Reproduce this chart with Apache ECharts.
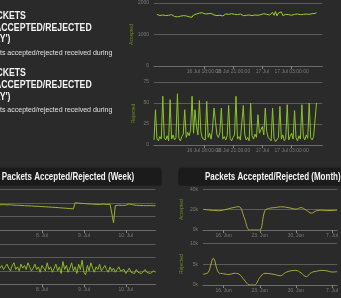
<!DOCTYPE html>
<html><head><meta charset="utf-8">
<script src="https://cdn.jsdelivr.net/npm/echarts@6/dist/echarts.min.js"></script>
<style>html,body{margin:0;padding:0;background:#2a2a2a;}#c{width:341px;height:298px;}</style>
</head><body><div id="c"></div>
<script>
// ---- data ----
const hourTicks = ['16 Jul 15:00:00','16 Jul 18:00:00','16 Jul 21:00:00','17 Jul','17 Jul 03:00:00','17 Jul 06:00:00'];
const hourAccepted = [
null,null,1640,1690,1600,1580,1620,1570,1600,1560,
1610,1590,1630,1580,1570,1600,1560,1540,1580,1550,
1600,1570,1590,1540,1560,1580,1550,1620,1600,1650,
1620,1680,1640,1690,1710,1650,1700,1660,1630,1670,
1640,1620,1660,1600,1650,1610,1640,1590,1630,1650,
1610,1640,1620,1660,1600,1640,1580,1630,1610,1650,
1620,1600,1640,1610,1660,1620,1650,1600,1640,1620,
1670,1610,1650,1630,1600,1660,1620,1640,1690,1620,
1580,1700,1610,1730,1590,1680,1620,1720,1600,1660,
1640,1680,1630,1650,1610,1660,1640,1620,1650,1670,
1630,1660,1640,1690,1650,1670,1640,1680,1660,1700,
1670,1690];
const hourRejected = [
6,42,8,5,10,7,58,9,6,11,
5,54,7,12,6,9,61,8,5,10,
13,42,9,15,11,18,58,14,42,22,
12,53,16,8,10,6,52,9,14,7,
20,44,28,12,9,15,44,7,10,6,
11,47,8,5,9,12,58,7,10,6,
8,47,12,6,9,5,50,11,7,13,
9,36,14,18,22,12,44,16,9,7,
5,44,8,4,6,9,46,7,12,5,
8,48,6,10,14,7,41,9,5,11,
7,48,10,6,12,8,50,9,6,10,
8,50];
const weekTicks = ['8. Jul','9. Jul','10. Jul'];
const weekAccepted = [
930,925,935,920,928,922,930,
921,915,918,910,905,908,900,896,899,890,886,888,880,876,872,874,866,860,862,855,850,846,842,838,835,830,826,820,815,810,805,800,795,790,785,780,
1000,
1005,990,995,980,985,970,975,960,950,955,960,945,950,940,945,955,950,940,945,950,
930,270,900,
920,915,910,905,900,915,940,960,950,930,920,910,915,905,910,900,905,895,910,900,905,895,900];
const weekRejected = [
12,14,11,13,15,12,10,14,16,11,
13,10,15,12,14,11,16,13,10,12,
15,11,13,9,14,12,10,16,11,13,
9,12,15,10,13,8,17,11,14,9,
12,16,10,13,8,15,11,18,9,7,
14,10,16,12,9,13,11,15,10,12,
14,11,9,13,10,12,9,11,13,10,
9,11,8,10,12,9,10,8,11,9,
10,8,9,11,9,10,8,9,10,9];
const monthTicks = ['16. Jun','23. Jun','30. Jun','7. Jul'];
const monthAccepted = [2030,1980,1920,1900,1960,2100,2220,2290,1200,0,0,0,1900,2150,2200,2280,2250,2150,2050,2200,1950,1650,1900,1950,1900,1920,1950];
const monthRejected = [2600,3000,6400,3000,2700,2500,2800,2600,1200,0,0,1800,2800,2700,2500,2200,3000,3400,3500,2900,2000,3000,3300,3500,3400,3100,3200];
const hourAccLabels = {0:'0',1000:'1000',2000:'2000'};
const hourRejLabels = {0:'0',25:'25',50:'50',75:'75'};
const monthAccLabels = {0:'0k',2000:'20k',4000:'40k'};
const monthRejLabels = {0:'0k',5000:'5k',10000:'10k'};

// ---- chart ----
const slots = n => Array.from({length:n},(_,i)=>String(i));
const GRID = '#5b5b5b', LBL = '#7a7a7a', NAME = '#6f8d1d';
function xAx(grid, n, first, step, ticks){
  const f = i => i >= first && (i-first) % step === 0;
  return {type:'category', gridIndex:grid, data:slots(n), boundaryGap:false,
    axisLine:{lineStyle:{color:'#6a6a6a'}},
    axisTick:{interval:(i)=>f(i), length:3, lineStyle:{color:'#888'}},
    axisLabel:{interval:(i)=>f(i), fontSize:5, color:LBL, margin:3,
      formatter:(v,i)=>{const k=(i-first)/step; return ticks[k]||'';}},
    splitLine:{show:false}};
}
function yAx(grid, max, interval, labels, name, gap){
  return {type:'value', gridIndex:grid, min:0, max:max, interval:interval,
    axisLine:{show:false}, axisTick:{show:false},
    splitLine:{lineStyle:{color:GRID,width:1}},
    axisLabel:{show:!!labels, fontSize:5, color:LBL, margin:5, formatter:v=>labels?(labels[v]||''):''},
    name:name||'', nameLocation:'middle', nameGap:gap||18,
    nameTextStyle:{color:NAME, fontSize:5}};
}
function ser(i, data, color, smooth){
  return {type:'line', xAxisIndex:i, yAxisIndex:i, data:data, showSymbol:false, symbol:'none',
    smooth:smooth||false, lineStyle:{color:color,width:1}, animation:false, silent:true};
}
const chart = echarts.init(document.getElementById('c'), null, {renderer:'canvas'});
const titleFont = 'bold 10px "Liberation Sans", Arial, sans-serif';
const smallFont = '7px "Liberation Sans", Arial, sans-serif';
const headFont = 'bold 10px "Liberation Sans", Arial, sans-serif';
function txt(x,y,t,font,sx,fill){
  return {type:'text', x:x, y:y, scaleX:sx||1, silent:true,
    style:{text:t, x:0, y:0, font:font, fill:fill||'#f2f2f2', verticalAlign:'middle', align:'left'}};
}
chart.setOption({
  backgroundColor:'#2a2a2a',
  animation:false,
  grid:[
    {left:154, top:3, width:115*1.72, height:63},
    {left:154, top:82, width:115*1.72, height:63},
    {left:-13.6, top:189.3, width:89*1.9, height:40.7},
    {left:-13.6, top:244, width:89*1.9, height:40.3},
    {left:203, top:189.3, width:26*5.5, height:40.7},
    {left:203, top:243.3, width:26*5.5, height:41.7}
  ],
  xAxis:[
    xAx(0,116,14,20,hourTicks),
    xAx(1,116,14,20,hourTicks),
    xAx(2,90,24,24,weekTicks),
    xAx(3,90,24,24,weekTicks),
    xAx(4,27,4,7,monthTicks),
    xAx(5,27,4,7,monthTicks)
  ],
  yAxis:[
    yAx(0,2000,1000,hourAccLabels,'Accepted',18),
    yAx(1,75,25,hourRejLabels,'Rejected',18),
    yAx(2,1500,500,null,'',18),
    yAx(3,30,10,null,'',18),
    yAx(4,4000,2000,monthAccLabels,'Accepted',19),
    yAx(5,10000,5000,monthRejLabels,'Rejected',19)
  ],
  series:[
    ser(0,hourAccepted,'#9ccf2c'),
    ser(1,hourRejected,'#8cc424'),
    ser(2,weekAccepted,'#9fb22b'),
    ser(3,weekRejected,'#8fb82a'),
    ser(4,monthAccepted,'#a8aa36',0.35),
    ser(5,monthRejected,'#a8aa36',0.35)
  ],
  graphic:[
    {type:'rect', silent:true, shape:{x:-10,y:167.7,width:171.7,height:18,r:3}, style:{fill:'#1b1b1b'}},
    {type:'rect', silent:true, shape:{x:178.3,y:167.7,width:180,height:18,r:3}, style:{fill:'#1b1b1b'}},
    txt(1.7,177,'Packets Accepted/Rejected (Week)',headFont,0.8),
    txt(205,177,'Packets Accepted/Rejected (Month)',headFont,0.8),
    txt(-15,16.4,'PACKETS',titleFont,0.87),
    txt(-5,27.8,'ACCEPTED/REJECTED',titleFont,0.87),
    txt(-15,39.4,"(DAY')",titleFont,0.87),
    txt(-19.5,53,'Packets accepted/rejected received during',smallFont,1,'#e0e0e0'),
    txt(-15,73.3,'PACKETS',titleFont,0.87),
    txt(-5,85.2,'ACCEPTED/REJECTED',titleFont,0.87),
    txt(-15,97.5,"(DAY')",titleFont,0.87),
    txt(-19.5,110,'Packets accepted/rejected received during',smallFont,1,'#e0e0e0')
  ]
});
</script></body></html>
